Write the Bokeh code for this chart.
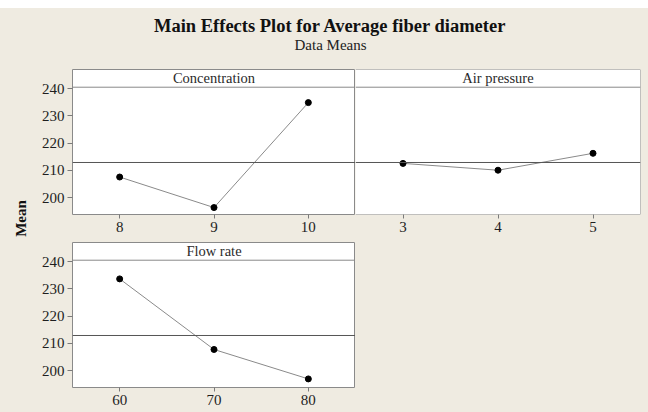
import math
import numpy as np
from bokeh.plotting import figure
from bokeh.models import Range1d, FixedTicker, Span, Label
from bokeh.layouts import column, row
from bokeh.embed import file_html
from bokeh.resources import INLINE

# ---- data ----
concentration_levels = [8, 9, 10]
concentration_means = [207.6, 196.4, 234.9]
air_pressure_levels = [3, 4, 5]
air_pressure_means = [212.6, 210.1, 216.3]
flow_rate_levels = [60, 70, 80]
flow_rate_means = [233.7, 207.8, 197.0]
y_ticks = [200, 210, 220, 230, 240]

grand_mean = float(np.mean(concentration_means + air_pressure_means + flow_rate_means))

# ---- styling ----
BG = "#efebe1"
FRAME = "#8a8a8a"
SERIF = "Liberation Serif"
Y_LO, Y_HI, HEADER_Y = 193.85, 247.05, 240.55


def blank(w, h):
    p = figure(width=w, height=h, x_range=Range1d(0, 1), y_range=Range1d(0, 1),
               x_axis_location=None, y_axis_location=None, toolbar_location=None,
               output_backend="svg", title=None, min_border=0)
    p.grid.visible = False
    p.outline_line_color = None
    p.background_fill_color = BG
    p.border_fill_color = BG
    return p


def style_axis(ax, tick_out, standoff):
    ax.axis_line_color = None
    ax.major_tick_line_color = "#7a7a7a"
    ax.major_tick_in = 0
    ax.major_tick_out = tick_out
    ax.minor_tick_line_color = None
    ax.major_label_text_font = SERIF
    ax.major_label_text_font_size = "15px"
    ax.major_label_text_color = "#1e1e1e"
    ax.major_label_standoff = standoff


def panel(name, levels, means, w, h, mbl, mbr, mbt, mbb, show_y, own_left_edge=True):
    step = levels[1] - levels[0]
    xr = Range1d(levels[0] - step / 2, levels[-1] + step / 2)
    p = figure(width=w, height=h, x_range=xr, y_range=Range1d(Y_LO, Y_HI),
               toolbar_location=None, output_backend="svg", title=None,
               y_axis_location="left" if show_y else None,
               min_border_left=mbl, min_border_right=mbr,
               min_border_top=mbt, min_border_bottom=mbb)
    p.grid.visible = False
    p.background_fill_color = "white"
    p.border_fill_color = BG
    if own_left_edge:
        p.outline_line_color = FRAME
        p.outline_line_width = 1
    else:
        # the left edge is shared with the neighbouring panel's border
        p.outline_line_color = None
        p.add_layout(Span(location=Y_HI, dimension="width", line_color=FRAME, line_width=1))
        p.add_layout(Span(location=Y_LO, dimension="width", line_color=FRAME, line_width=1))
        p.add_layout(Span(location=xr.end, dimension="height", line_color=FRAME, line_width=1))

    p.xaxis.ticker = FixedTicker(ticks=levels)
    style_axis(p.xaxis[0], 4, 3)
    if show_y:
        p.yaxis.ticker = FixedTicker(ticks=y_ticks)
        style_axis(p.yaxis[0], 5, 3)

    p.add_layout(Span(location=grand_mean, dimension="width",
                      line_color="#555555", line_width=1))
    p.add_layout(Span(location=HEADER_Y, dimension="width",
                      line_color=FRAME, line_width=1))
    p.line(levels, means, line_color="#8a8a8a", line_width=1)
    p.scatter(levels, means, size=6, color="black")
    p.add_layout(Label(x=(xr.start + xr.end) / 2, y=(HEADER_Y + Y_HI) / 2,
                       text=name, text_align="center", text_baseline="middle",
                       text_font=SERIF, text_font_size="14.5px",
                       text_color="#2a2a2a"))
    return p


# title strip
T = blank(648, 61)
T.add_layout(Label(x=330, y=44, x_units="screen", y_units="screen",
                   text="Main Effects Plot for Average fiber diameter",
                   text_align="center", text_baseline="alphabetic",
                   text_font=SERIF, text_font_style="bold",
                   text_font_size="18.5px", text_color="#111111"))
T.add_layout(Label(x=330, y=25, x_units="screen", y_units="screen",
                   text="Data Means", text_align="center",
                   text_baseline="alphabetic", text_font=SERIF,
                   text_font_size="15px", text_color="#222222"))

# left strip with the shared y label
L = blank(38, 343)
L.add_layout(Label(x=20, y=194, x_units="screen", y_units="screen",
                   text="Mean", angle=math.pi / 2, text_align="center",
                   text_baseline="alphabetic", text_font=SERIF,
                   text_font_style="bold", text_font_size="15px",
                   text_color="#111111"))

A = panel("Concentration", concentration_levels, concentration_means,
          317, 168, 30, 0, 0, 23, True)
B = panel("Air pressure", air_pressure_levels, air_pressure_means,
          293, 168, 0, 8, 0, 23, False, own_left_edge=False)
C = panel("Flow rate", flow_rate_levels, flow_rate_means,
          317, 175, 30, 0, 5, 25, True)
D = blank(293, 175)

root = column(T, row(L, column(row(A, B), row(C, D))))
root.styles = {"position": "absolute", "left": "0px", "top": "8px",
               "background-color": BG}

open("out.html", "w").write(file_html(root, INLINE))
